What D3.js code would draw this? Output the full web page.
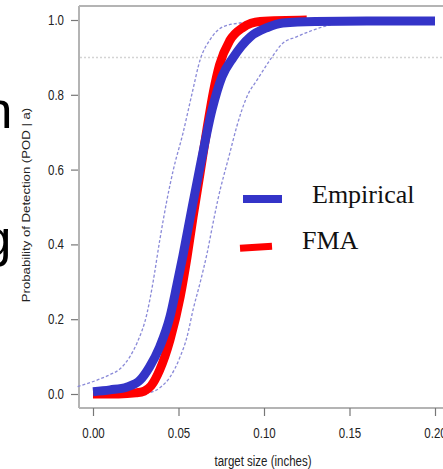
<!DOCTYPE html>
<html><head><meta charset="utf-8">
<script src="https://cdn.jsdelivr.net/npm/d3@7"></script>
<style>body{margin:0;background:#fff}svg{display:block}</style>
</head><body>
<script>
// ---- data ----
const xTickValues = [0, 0.05, 0.10, 0.15, 0.20];
const xTickLabels = ["0.00", "0.05", "0.10", "0.15", "0.20"];
const yTickValues = [0, 0.2, 0.4, 0.6, 0.8, 1.0];
const yTickLabels = ["0.0", "0.2", "0.4", "0.6", "0.8", "1.0"];
const referenceLevel = 0.9;

const empiricalSize = [0, 0.01, 0.02, 0.0275, 0.033, 0.039, 0.045, 0.049, 0.0526, 0.058, 0.0626, 0.0696, 0.0754, 0.082, 0.092, 0.102, 0.111, 0.13, 0.16, 0.20];
const empiricalPOD  = [0.006, 0.011, 0.019, 0.037, 0.072, 0.126, 0.206, 0.29, 0.37, 0.5, 0.607, 0.76, 0.848, 0.90, 0.955, 0.98, 0.992, 0.996, 0.997, 0.997];

const fmaSize = [0, 0.015, 0.025, 0.03, 0.034, 0.039, 0.045, 0.051, 0.055, 0.0585, 0.0626, 0.0667, 0.0705, 0.074, 0.080, 0.0877, 0.0977, 0.125];
const fmaPOD  = [0, 0.0, 0.003, 0.008, 0.022, 0.064, 0.144, 0.26, 0.366, 0.473, 0.59, 0.71, 0.81, 0.88, 0.945, 0.98, 0.996, 1.0];

const upperSize = [-0.009, 0.004, 0.01, 0.0155, 0.0216, 0.0257, 0.0316, 0.035, 0.039, 0.0433, 0.047, 0.0526, 0.058, 0.0626, 0.0684, 0.076, 0.086, 0.0977, 0.20];
const upperPOD  = [0.02, 0.04, 0.052, 0.066, 0.1, 0.136, 0.216, 0.296, 0.41, 0.52, 0.6, 0.697, 0.805, 0.893, 0.947, 0.982, 0.992, 0.997, 0.997];

const lowerSize = [0.028, 0.036, 0.04, 0.045, 0.051, 0.055, 0.0585, 0.0626, 0.0667, 0.0702, 0.073, 0.080, 0.084, 0.090, 0.096, 0.1035, 0.111, 0.119, 0.1287, 0.1386, 0.1444, 0.16, 0.20];
const lowerPOD  = [0.0, 0.008, 0.02, 0.045, 0.1, 0.153, 0.225, 0.297, 0.376, 0.457, 0.519, 0.644, 0.714, 0.795, 0.84, 0.893, 0.938, 0.955, 0.973, 0.987, 0.992, 0.996, 0.997];

const legendLabels = ["Empirical", "FMA"];
const sideFragments = ["n", "g"];

// ---- drawing ----
const W = 443, H = 469;
const svg = d3.select("body").append("svg").attr("width", W).attr("height", H);

const x = d3.scaleLinear().domain([0, 0.2]).range([93, 435]);
const y = d3.scaleLinear().domain([0, 1]).range([394, 20]);

const boxLeft = 79, boxTop = 6, boxBottom = 408;
const sy = 1.2;
const rFont = "'Liberation Sans', Arial, sans-serif";

// box
const box = svg.append("g").attr("stroke", "#b4b4b4").attr("stroke-width", 2).attr("fill", "none");
box.append("line").attr("x1", boxLeft).attr("x2", W + 5).attr("y1", boxTop).attr("y2", boxTop);
box.append("line").attr("x1", boxLeft).attr("x2", boxLeft).attr("y1", boxTop).attr("y2", boxBottom);
box.append("line").attr("x1", boxLeft).attr("x2", W + 5).attr("y1", boxBottom).attr("y2", boxBottom);

// y axis
const yAxis = svg.append("g").attr("transform", `translate(${boxLeft - 1},0)`)
  .call(d3.axisLeft(y).tickValues(yTickValues).tickFormat((d, i) => yTickLabels[i]).tickSize(7).tickPadding(7));
yAxis.select(".domain").remove();
yAxis.selectAll(".tick line").attr("stroke", "#777").attr("stroke-width", 1.2);
yAxis.selectAll(".tick text").attr("font-family", rFont).attr("font-size", 11.5).attr("fill", "#222")
  .attr("transform", `scale(1,${sy})`);

// x axis
const xAxis = svg.append("g").attr("transform", `translate(0,${boxBottom})`)
  .call(d3.axisBottom(x).tickValues(xTickValues).tickFormat((d, i) => xTickLabels[i]).tickSize(8));
xAxis.select(".domain").remove();
xAxis.selectAll(".tick line").attr("stroke", "#777").attr("stroke-width", 1.2);
xAxis.selectAll(".tick text").attr("font-family", rFont).attr("font-size", 11.5).attr("fill", "#222")
  .attr("y", 25 / sy + 4).attr("dy", "0").attr("transform", `scale(1,${sy})`);

// axis titles
svg.append("text").attr("transform", `translate(263,466) scale(1,${sy})`)
  .attr("text-anchor", "middle").attr("font-family", rFont).attr("font-size", 11.5).attr("fill", "#222")
  .text("target size (inches)");
svg.append("text").attr("transform", `translate(30,205) rotate(-90) scale(${sy},1)`)
  .attr("text-anchor", "middle").attr("font-family", rFont).attr("font-size", 11).attr("fill", "#222")
  .text("Probability of Detection (POD | a)");

// reference line
svg.append("line").attr("x1", boxLeft + 1).attr("x2", W).attr("y1", y(referenceLevel)).attr("y2", y(referenceLevel))
  .attr("stroke", "#d4d4d4").attr("stroke-width", 1.5).attr("stroke-dasharray", "2,2");

const line = d3.line().x(d => x(d[0])).y(d => y(d[1])).curve(d3.curveMonotoneX);
const zip = (a, b) => a.map((v, i) => [v, b[i]]);

// confidence bounds
[zip(upperSize, upperPOD), zip(lowerSize, lowerPOD)].forEach(pts => {
  svg.append("path").attr("d", line(pts)).attr("fill", "none")
    .attr("stroke", "#8a8ad8").attr("stroke-width", 1.3).attr("stroke-dasharray", "3,2");
});

// FMA (red) then Empirical (blue) on top
svg.append("path").attr("d", line(zip(fmaSize, fmaPOD))).attr("fill", "none")
  .attr("stroke", "#ff0000").attr("stroke-width", 9).attr("stroke-linejoin", "round");
svg.append("path").attr("d", line(zip(empiricalSize, empiricalPOD))).attr("fill", "none")
  .attr("stroke", "#3434c8").attr("stroke-width", 9).attr("stroke-linejoin", "round");

// legend
const serif = "'Liberation Serif', 'Times New Roman', serif";
svg.append("line").attr("x1", 243).attr("x2", 282).attr("y1", 199).attr("y2", 199)
  .attr("stroke", "#3434c8").attr("stroke-width", 8);
svg.append("text").attr("x", 312).attr("y", 203).attr("font-family", serif).attr("font-size", 26)
  .attr("fill", "#111").text(legendLabels[0]);
svg.append("line").attr("x1", 240).attr("x2", 272).attr("y1", 248.3).attr("y2", 246.3)
  .attr("stroke", "#ff0000").attr("stroke-width", 7);
svg.append("text").attr("x", 302).attr("y", 249).attr("font-family", serif).attr("font-size", 26)
  .attr("fill", "#111").text(legendLabels[1]);

// cut-off slide text fragments at left edge
svg.append("text").attr("x", -16.5).attr("y", 128).attr("font-family", rFont).attr("font-size", 52)
  .attr("fill", "#000").text(sideFragments[0]);
svg.append("text").attr("x", -17.5).attr("y", 256).attr("font-family", rFont).attr("font-size", 52)
  .attr("fill", "#000").text(sideFragments[1]);
</script>
</body></html>
